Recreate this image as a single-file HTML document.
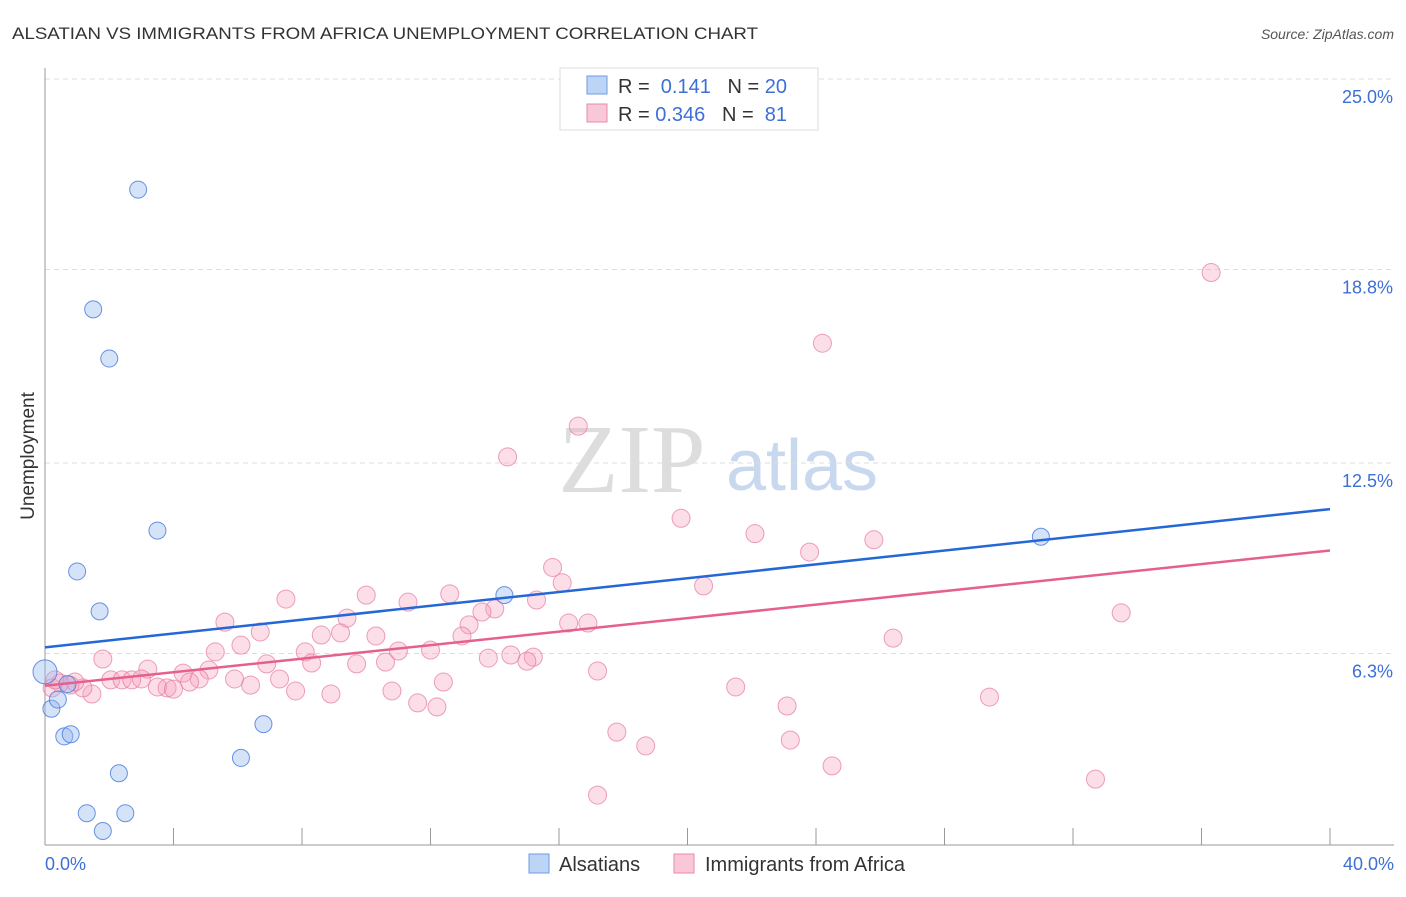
<!DOCTYPE html>
<html><head><meta charset="utf-8"><style>
body{margin:0;background:#fff;font-family:"Liberation Sans",sans-serif;}
</style></head><body>
<svg id="chart" width="1406" height="892" xmlns="http://www.w3.org/2000/svg">
<text x="12" y="39" font-size="17" fill="#333" textLength="746" lengthAdjust="spacingAndGlyphs">ALSATIAN VS IMMIGRANTS FROM AFRICA UNEMPLOYMENT CORRELATION CHART</text>
<text x="1394" y="39" font-size="14" fill="#555" text-anchor="end" font-style="italic">Source: ZipAtlas.com</text>
<text x="632" y="492" font-size="98" fill="#ddd" font-family="Liberation Serif,serif" text-anchor="middle">ZIP</text>
<text x="802" y="490" font-size="72" fill="#c8d8ef" text-anchor="middle">atlas</text>
<text x="34" y="456" font-size="19" fill="#333" text-anchor="middle" transform="rotate(-90 34 456)">Unemployment</text>
<g id="grid"></g><g id="pts"></g><g id="lines"></g>
<g>
<rect x="560" y="68" width="258" height="62" fill="#fff" stroke="#ddd"/>
<rect x="587" y="76" width="20" height="18" fill="#bcd4f5" stroke="#6f9be0"/>
<rect x="587" y="104" width="20" height="18" fill="#f9c8d8" stroke="#e88aaa"/>
<text x="618" y="93" font-size="20" fill="#333">R = <tspan fill="#3d6fd6">&#160;0.141</tspan>&#160;&#160;&#160;N = <tspan fill="#3d6fd6">20</tspan></text>
<text x="618" y="121" font-size="20" fill="#333">R = <tspan fill="#3d6fd6">0.346</tspan>&#160;&#160;&#160;N = <tspan fill="#3d6fd6">&#160;81</tspan></text>
</g>
<g>
<rect x="529" y="854" width="20" height="19" fill="#bcd4f5" stroke="#6f9be0"/>
<text x="559" y="871" font-size="20" fill="#333">Alsatians</text>
<rect x="674" y="854" width="20" height="19" fill="#f9c8d8" stroke="#e88aaa"/>
<text x="705" y="871" font-size="20" fill="#333">Immigrants from Africa</text>
</g>
</svg>
<script>
const yTicks=[25.0,18.8,12.5,6.3];
const yTickLabels=["25.0%","18.8%","12.5%","6.3%"];
const xTickLabels=["0.0%","40.0%"];
const blueX=[0,0.2,0.4,0.6,0.8,0.7,1.0,1.7,1.5,2.0,2.9,3.5,2.3,1.3,2.5,1.8,6.1,6.8,14.3,31.0];
const blueY=[5.7,4.5,4.8,3.6,3.67,5.3,8.97,7.67,17.5,15.9,21.4,10.3,2.4,1.1,1.1,0.52,2.9,4.0,8.2,10.1];
const pinkX=[36.3,24.2,16.6,14.4,19.8,22.1,23.8,25.8,15.8,16.1,20.5,10.0,12.6,7.5,11.3,15.3,14.0,13.6,9.4,5.6,16.3,16.9,13.2,26.4,33.5,6.7,8.6,9.2,10.3,12.98,6.1,8.1,11.0,12.0,5.3,14.5,15.2,13.8,15.0,1.8,8.3,6.9,9.7,10.6,3.2,4.3,5.1,17.2,4.8,7.3,5.9,4.5,2.05,2.4,2.7,3.0,3.8,3.5,4.0,6.4,12.4,21.5,7.8,8.9,10.8,1.46,1.18,0.78,0.47,0.22,0.31,0.93,11.6,12.2,23.1,29.4,17.8,18.7,23.2,24.5,32.7,17.2];
const pinkY=[18.7,16.4,13.7,12.7,10.7,10.2,9.6,10.0,9.1,8.6,8.5,8.2,8.24,8.07,7.97,8.04,7.75,7.65,7.45,7.32,7.29,7.29,7.23,6.8,7.62,7.0,6.9,6.97,6.87,6.87,6.57,6.35,6.38,6.41,6.35,6.25,6.18,6.15,6.05,6.12,5.99,5.96,5.96,6.02,5.79,5.66,5.76,5.73,5.47,5.47,5.47,5.37,5.44,5.44,5.44,5.47,5.18,5.21,5.14,5.27,5.37,5.21,5.08,4.98,5.08,4.98,5.18,5.27,5.34,5.18,5.44,5.37,4.69,4.56,4.59,4.88,3.74,3.29,3.48,2.64,2.21,1.69];
const blueLine=[6.5,11.0], pinkLine=[5.25,9.65];
const X0=45,X1=1330,Y0=847,PPU=30.72;
const xs=v=>X0+v/40*(X1-X0), ys=v=>Y0-v*PPU;
const NS="http://www.w3.org/2000/svg";
function mk(t,a,p){const e=document.createElementNS(NS,t);for(const k in a)e.setAttribute(k,a[k]);p.appendChild(e);return e;}
const grid=document.getElementById('grid');
yTicks.forEach((v,i)=>{
 const l=mk('line',{x1:X0,x2:1394,y1:ys(v),y2:ys(v),stroke:'#ddd','stroke-dasharray':'5,4'},grid);
 
 
 const t=mk('text',{x:1393,y:ys(v)+24,'font-size':18,fill:'#3d6fd6','text-anchor':'end'},grid);
 t.textContent=yTickLabels[i];
 
 
});
const ax=mk('line',{x1:X0,x2:X0,y1:68,y2:845,stroke:'#999'},grid);


const bx=mk('line',{x1:X0,x2:1394,y1:845,y2:845,stroke:'#999'},grid);


for(let i=0;i<=10;i++){const t=mk('line',{x1:xs(i*4),x2:xs(i*4),y1:828,y2:845,stroke:'#999'},grid);
 
 }
[[xTickLabels[0],45,'start'],[xTickLabels[1],1394,'end']].forEach(([s,x,a])=>{
 const t=mk('text',{x:x,y:870,'font-size':18,fill:'#3d6fd6','text-anchor':a},grid);t.textContent=s;
 
 });
const pts=document.getElementById('pts');
pinkX.forEach((x,i)=>{const c=mk('circle',{cx:xs(x),cy:ys(pinkY[i]),r:9,fill:'rgba(245,160,190,0.35)',stroke:'rgba(230,120,160,0.7)'},pts);
 
 });
blueX.forEach((x,i)=>{const c=mk('circle',{cx:xs(x),cy:ys(blueY[i]),r:i==0?12:8.5,fill:'rgba(150,185,240,0.4)',stroke:'rgba(70,120,220,0.8)'},pts);
 
 });
const lines=document.getElementById('lines');
const bl=mk('line',{x1:xs(0),y1:ys(blueLine[0]),x2:xs(40),y2:ys(blueLine[1]),stroke:'#2467d6','stroke-width':2.5},lines);


const pl=mk('line',{x1:xs(0),y1:ys(pinkLine[0]),x2:xs(40),y2:ys(pinkLine[1]),stroke:'#e5608f','stroke-width':2.5},lines);


</script>
</body></html>
